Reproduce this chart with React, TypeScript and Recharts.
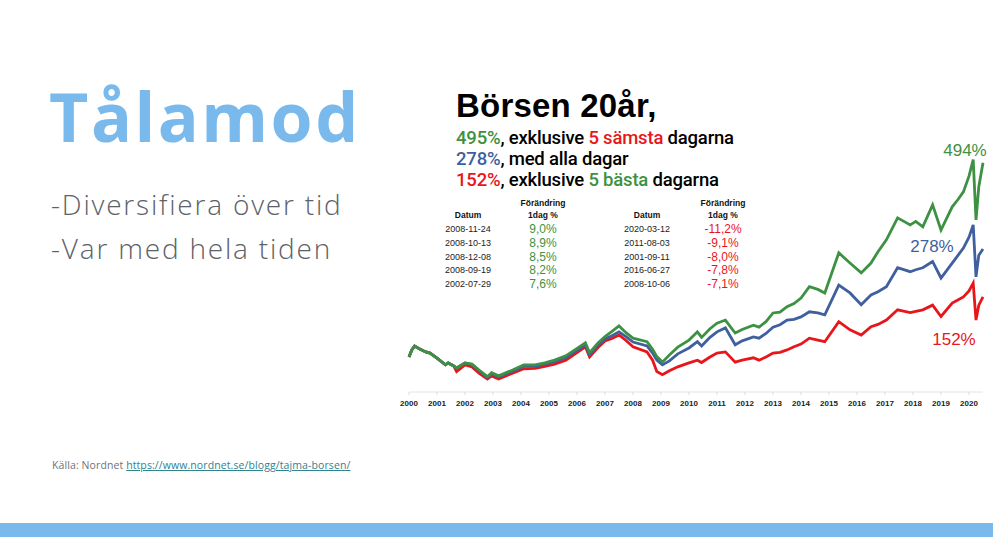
import { LineChart, Line, XAxis, YAxis } from 'recharts';

// index level, 2000 = 100
const years = [
  2000.0, 2000.1, 2000.2, 2000.4, 2000.6, 2000.75, 2001.0, 2001.3, 2001.4, 2001.6, 2001.7,
  2002.0, 2002.25, 2002.5, 2002.8, 2002.95, 2003.2, 2003.7, 2004.1, 2004.5, 2004.85, 2005.2, 2005.6,
  2006.3, 2006.45, 2006.75, 2007.0, 2007.25, 2007.5, 2007.75, 2008.0, 2008.5, 2008.7, 2008.85, 2009.05, 2009.3, 2009.6,
  2010.0, 2010.3, 2010.45, 2010.75, 2011.0, 2011.3, 2011.65, 2011.9, 2012.3, 2012.5, 2012.75, 2013.0, 2013.25, 2013.5, 2013.75, 2014.0,
  2014.3, 2014.6, 2014.85, 2015.35, 2015.75, 2016.15, 2016.5, 2016.75, 2017.05, 2017.45, 2017.9, 2018.1, 2018.35,
  2018.7, 2019.0, 2019.4, 2019.6, 2019.8, 2020.0, 2020.15, 2020.25, 2020.35, 2020.5,
];

// exklusive 5 sämsta dagarna
const withoutWorst = [
  100, 118, 128, 120, 113, 110, 97, 80, 85, 77, 72,
  85, 82, 67, 50, 60, 52, 67, 80, 80, 85, 92, 103,
  136, 111, 136, 152, 165, 179, 162, 148, 139, 120, 101, 87, 105, 125,
  143, 164, 150, 172, 186, 194, 161, 170, 181, 176, 190, 212, 214, 228, 236, 250,
  279, 272, 263, 365, 339, 314, 339, 368, 398, 454, 436, 445, 431,
  487, 423, 482, 500, 520, 560, 602, 449, 533, 594,
];

// med alla dagar
const allDays = [
  100, 118, 128, 120, 113, 110, 97, 80, 85, 77, 72,
  85, 81, 65, 48, 57, 49, 64, 76, 76, 82, 88, 99,
  131, 106, 131, 146, 154, 164, 152, 138, 128, 110, 92, 80, 90, 108,
  123, 139, 128, 150, 164, 174, 131, 141, 151, 148, 160, 176, 182, 194, 196, 202,
  215, 212, 207, 283, 263, 233, 258, 266, 279, 327, 317, 322, 327,
  343, 301, 339, 358, 377, 405, 436, 304, 359, 375,
];

// exklusive 5 bästa dagarna
const withoutBest = [
  100, 118, 128, 120, 113, 110, 97, 80, 85, 77, 63,
  80, 75, 59, 44, 52, 44, 59, 70, 71, 76, 82, 92,
  126, 100, 124, 141, 147, 156, 142, 126, 113, 92, 63, 55, 65, 75,
  85, 92, 86, 100, 110, 113, 87, 92, 98, 92, 100, 110, 112, 118, 126, 133,
  148, 143, 139, 190, 169, 156, 177, 183, 194, 220, 213, 216, 220,
  232, 203, 237, 245, 253, 268, 288, 194, 232, 253,
];

const yearTicks = [
  2000, 2001, 2002, 2003, 2004, 2005, 2006, 2007, 2008, 2009, 2010,
  2011, 2012, 2013, 2014, 2015, 2016, 2017, 2018, 2019, 2020,
];

const bestDates = ['2008-11-24', '2008-10-13', '2008-12-08', '2008-09-19', '2002-07-29'];
const bestChanges = ['9,0%', '8,9%', '8,5%', '8,2%', '7,6%'];
const worstDates = ['2020-03-12', '2011-08-03', '2001-09-11', '2016-06-27', '2008-10-06'];
const worstChanges = ['-11,2%', '-9,1%', '-8,0%', '-7,8%', '-7,1%'];

const GREEN = '#3d9142';
const BLUE = '#3f5f9f';
const RED = '#e8161b';
const SLIDE_BLUE = '#7ab9eb';
const SANS = '"Liberation Sans", Arial, sans-serif';
const MED = 'Roboto, "Liberation Sans", sans-serif';

const data = years.map((year, i) => ({
  year,
  green: withoutWorst[i],
  blue: allDays[i],
  red: withoutBest[i],
}));

const rowY = [229, 243, 257, 270, 284];

function Cell({ x, y, size, color, bold, children }: { x: number; y: number; size: number; color: string; bold?: boolean; children: React.ReactNode }) {
  return (
    <div
      style={{
        position: 'absolute', left: x - 50, top: y - size / 2, width: 100,
        textAlign: 'center', fontSize: size, lineHeight: `${size}px`,
        color, fontWeight: bold ? 700 : 400, fontFamily: SANS, whiteSpace: 'nowrap',
      }}
    >
      {children}
    </div>
  );
}

function Table({ dateX, valX, dates, changes, color }: { dateX: number; valX: number; dates: string[]; changes: string[]; color: string }) {
  return (
    <>
      <Cell x={valX} y={203} size={8.5} color="#111" bold>Förändring</Cell>
      <Cell x={dateX} y={215} size={8.5} color="#111" bold>Datum</Cell>
      <Cell x={valX} y={215} size={8.5} color="#111" bold>1dag %</Cell>
      {dates.map((d, i) => (
        <Cell key={d} x={dateX} y={rowY[i]} size={9} color="#222">{d}</Cell>
      ))}
      {changes.map((c, i) => (
        <Cell key={c} x={valX} y={rowY[i]} size={12} color={color}>{c}</Cell>
      ))}
    </>
  );
}

const subtitle = { position: 'absolute', left: 456, fontFamily: MED, fontWeight: 500, fontSize: 18.5, lineHeight: '19px', color: '#000', whiteSpace: 'nowrap', letterSpacing: -0.2 } as const;
const bullet = { position: 'absolute', left: 51, fontFamily: '"Open Sans", sans-serif', fontWeight: 300, fontSize: 28, lineHeight: '28px', color: '#5d6168', whiteSpace: 'nowrap', letterSpacing: 1.8 } as const;

export default function App() {
  return (
    <div style={{ position: 'absolute', left: 0, top: 0, width: 993, height: 537, background: '#fff', overflow: 'hidden' }}>
      <div style={{ position: 'absolute', left: 49, top: 82, fontFamily: '"Open Sans", sans-serif', fontWeight: 700, fontSize: 68, lineHeight: '68px', color: SLIDE_BLUE, whiteSpace: 'nowrap', letterSpacing: 2.5 }}>
        Tålamod
      </div>
      <div style={{ ...bullet, top: 190 }}>-Diversifiera över tid</div>
      <div style={{ ...bullet, top: 234 }}>-Var med hela tiden</div>
      <div style={{ position: 'absolute', left: 52, top: 459, fontFamily: '"Open Sans", sans-serif', fontSize: 10.5, lineHeight: '12px', color: '#6f7378', whiteSpace: 'nowrap', letterSpacing: 0.1 }}>
        Källa: Nordnet{' '}
        <span style={{ color: '#2f8391', textDecoration: 'underline' }}>https://www.nordnet.se/blogg/tajma-borsen/</span>
      </div>

      <div style={{ position: 'absolute', left: 456, top: 89, fontFamily: SANS, fontWeight: 700, fontSize: 33, lineHeight: '33px', color: '#000', whiteSpace: 'nowrap', letterSpacing: 0.2 }}>
        Börsen 20år,
      </div>
      <div style={{ ...subtitle, top: 129 }}>
        <span style={{ color: GREEN }}>495%</span>, exklusive <span style={{ color: RED }}>5 sämsta</span> dagarna
      </div>
      <div style={{ ...subtitle, top: 150 }}>
        <span style={{ color: BLUE }}>278%</span>, med alla dagar
      </div>
      <div style={{ ...subtitle, top: 171 }}>
        <span style={{ color: RED }}>152%</span>, exklusive <span style={{ color: GREEN }}>5 bästa</span> dagarna
      </div>

      <Table dateX={468} valX={543} dates={bestDates} changes={bestChanges} color={GREEN} />
      <Table dateX={647} valX={723} dates={worstDates} changes={worstChanges} color={RED} />

      <div style={{ position: 'absolute', left: 400, top: 120 }}>
        <LineChart width={593} height={300} data={data} margin={{ top: 9, right: 10, left: 9, bottom: 8 }}>
          <XAxis
            dataKey="year" type="number" domain={[2000, 2020.5]} ticks={yearTicks} interval={0}
            height={20} tickSize={3} tickMargin={5}
            axisLine={{ stroke: '#e4e4e4' }} tickLine={{ stroke: '#dddddd' }}
            tick={{ fontSize: 8, fill: '#222', fontWeight: 700, fontFamily: SANS }}
          />
          <YAxis hide domain={[11, 680]} />
          <Line type="linear" dataKey="red" stroke={RED} strokeWidth={2.8} dot={false} isAnimationActive={false} />
          <Line type="linear" dataKey="blue" stroke={BLUE} strokeWidth={2.8} dot={false} isAnimationActive={false} />
          <Line type="linear" dataKey="green" stroke={GREEN} strokeWidth={2.8} dot={false} isAnimationActive={false} />
        </LineChart>
      </div>

      <Cell x={965} y={150} size={17} color={GREEN}>494%</Cell>
      <Cell x={932} y={246} size={17} color={BLUE}>278%</Cell>
      <Cell x={954} y={339} size={17} color={RED}>152%</Cell>

      <div style={{ position: 'absolute', left: 0, top: 523, width: 993, height: 14, background: SLIDE_BLUE }} />
    </div>
  );
}
